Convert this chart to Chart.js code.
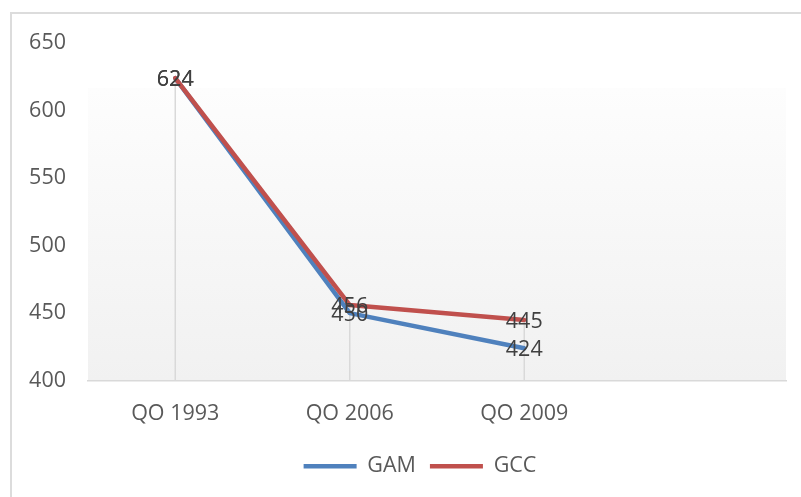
<!DOCTYPE html>
<html>
<head>
<meta charset="utf-8">
<script src="https://cdn.jsdelivr.net/npm/chart.js@4"></script>
<style>
  html, body { margin: 0; padding: 0; background: #fff; overflow: hidden; }
  #wrap { position: relative; width: 801px; height: 497px; }
  #frame { position: absolute; left: 10px; top: 12px; width: 1000px; height: 1000px;
           border: 2px solid #dcdcdc; pointer-events: none; }
  canvas { position: absolute; left: 0; top: 0; }
</style>
</head>
<body>
<div id="wrap">
  <canvas id="myChart" width="801" height="497"></canvas>
  <div id="frame"></div>
</div>
<script>
// ---- data ----
const categories = ['QO 1993', 'QO 2006', 'QO 2009', '']
const gam = [624, 450, 424, null]
const gcc = [624, 456, 445, null]
const yTicks = [400, 450, 500, 550, 600, 650]

const FONT = "'Open Sans', 'DejaVu Sans', sans-serif"
const FSIZE = 21.5
const textGrey = '#595959'

// plot area gradient, starts a bit below the top like the original
const plotBg = {
  id: 'plotBg',
  beforeDraw(chart) {
    const {ctx, chartArea} = chart
    const top = chartArea.top + chartArea.height * 0.133
    const g = ctx.createLinearGradient(0, top, 0, chartArea.bottom)
    g.addColorStop(0, '#fdfdfd')
    g.addColorStop(1, '#f1f1f1')
    ctx.save()
    ctx.fillStyle = g
    ctx.fillRect(chartArea.left, top, chartArea.right - chartArea.left, chartArea.bottom - top)
    ctx.restore()
  }
}

// drop lines from the highest point of each category to the axis
const dropLines = {
  id: 'dropLines',
  beforeDatasetsDraw(chart) {
    const {ctx, chartArea, scales} = chart
    ctx.save()
    ctx.strokeStyle = '#d9d9d9'
    ctx.lineWidth = 1.5
    categories.forEach((c, i) => {
      const vals = chart.data.datasets.map(d => d.data[i]).filter(v => v != null)
      if (!vals.length) return
      const x = scales.x.getPixelForValue(i)
      const y = scales.y.getPixelForValue(Math.max(...vals))
      ctx.beginPath()
      ctx.moveTo(x, y)
      ctx.lineTo(x, chartArea.bottom)
      ctx.stroke()
    })
    ctx.restore()
  }
}

// value labels centred on the points
const valueLabels = {
  id: 'valueLabels',
  afterDatasetsDraw(chart) {
    const {ctx} = chart
    ctx.save()
    ctx.font = FSIZE + 'px ' + FONT
    ctx.fillStyle = '#404040'
    ctx.textAlign = 'center'
    ctx.textBaseline = 'middle'
    chart.data.datasets.forEach((ds, di) => {
      const meta = chart.getDatasetMeta(di)
      meta.data.forEach((pt, i) => {
        if (ds.data[i] == null) return
        ctx.fillText(String(ds.data[i]), pt.x, pt.y + 2)
      })
    })
    ctx.restore()
  }
}

// the legend sits a little right of centre in the original
const legendShift = {
  id: 'legendShift',
  afterLayout(chart) {
    chart.legend.left += 27
    chart.legend.right += 27
  }
}

const data = {
  labels: categories,
  datasets: [
    { label: 'GAM', data: gam, borderColor: '#4f81bd', backgroundColor: '#4f81bd', order: 1 },
    { label: 'GCC', data: gcc, borderColor: '#c0504d', backgroundColor: '#c0504d', order: 0 }
  ].map(d => Object.assign(d, {
    borderWidth: 4.5, pointRadius: 0, tension: 0,
    borderCapStyle: 'round', borderJoinStyle: 'round', spanGaps: false
  }))
}

const config = {
  type: 'line',
  data: data,
  options: {
    responsive: false,
    animation: false,
    devicePixelRatio: 1,
    layout: { padding: { top: 43, left: 0, right: 15, bottom: 10 } },
    plugins: {
      tooltip: { enabled: false },
      legend: {
        position: 'bottom',
        labels: {
          usePointStyle: true,
          pointStyle: 'line',
          pointStyleWidth: 53,
          boxHeight: 20,
          padding: 14,
          color: textGrey,
          font: { family: FONT, size: FSIZE },
          sort: (a, b) => a.datasetIndex - b.datasetIndex
        }
      }
    },
    scales: {
      x: {
        offset: true,
        grid: { display: false, drawTicks: false },
        border: { display: true, color: '#d9d9d9', width: 1.5 },
        ticks: { color: textGrey, padding: 20, font: { family: FONT, size: FSIZE }, maxRotation: 0 },
        afterFit(axis) { axis.height -= 5 }
      },
      y: {
        min: 400,
        max: 650,
        afterBuildTicks(axis) { axis.ticks = yTicks.map(v => ({ value: v })) },
        grid: { display: false, drawTicks: false },
        border: { display: false },
        ticks: { color: textGrey, padding: 22, font: { family: FONT, size: FSIZE } },
        afterFit(axis) { axis.width = 88 }
      }
    }
  },
  plugins: [plotBg, dropLines, valueLabels, legendShift]
}

const myChart = new Chart(document.getElementById('myChart'), config)
</script>
</body>
</html>
